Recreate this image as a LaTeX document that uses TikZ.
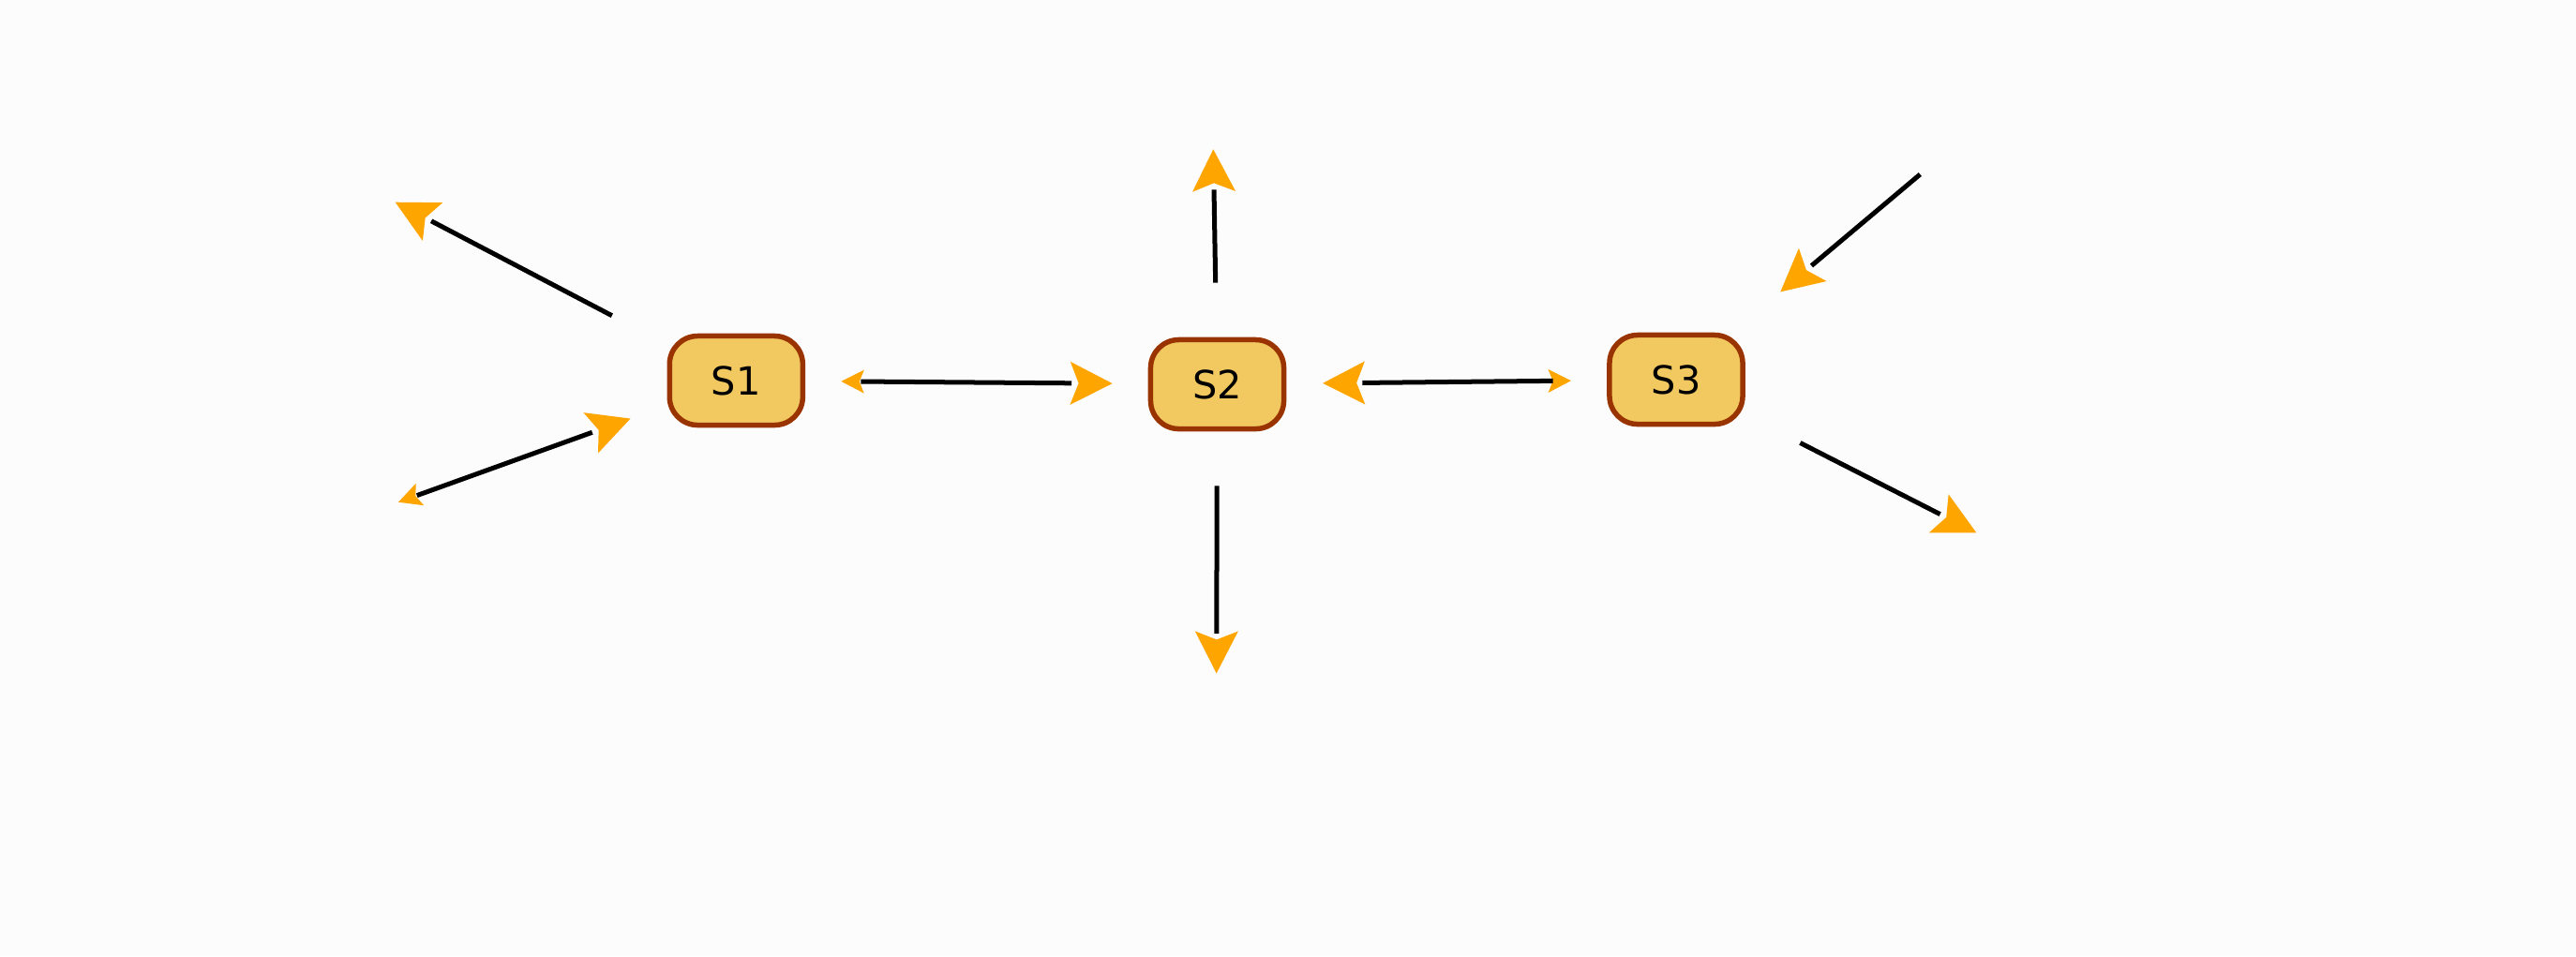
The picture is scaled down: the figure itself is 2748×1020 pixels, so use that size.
\documentclass[tikz,border=0pt]{standalone}
\usepackage{fontspec}
\setmainfont{DejaVu Sans}
\usetikzlibrary{arrows.meta}
\definecolor{pagebg}{HTML}{FCFCFC}
\definecolor{boxfill}{HTML}{F2C960}
\definecolor{boxline}{HTML}{993300}
\definecolor{tipfill}{HTML}{FFA500}

\begin{document}
\begin{tikzpicture}[x=0.01cm,y=-0.01cm,
  state/.style={draw=boxline, fill=boxfill, line width=0.055cm,
    rounded corners=0.3cm, minimum width=1.42cm, minimum height=0.95cm,
    inner sep=0pt, outer sep=0pt, text=black,
    font=\fontsize{11.8}{13}\selectfont},
  link/.style={draw=black, line width=0.05cm},
  heads/.style={tips},
  headL/.tip={Stealth[tipfill, length=0.45cm, width=0.46cm, inset=0.09cm, line width=0pt]},
  headS/.tip={Stealth[tipfill, length=0.244cm, width=0.25cm, inset=0.05cm, line width=0pt]}
]
% canvas
\fill[pagebg] (0,0) rectangle (2748,1020);
\useasboundingbox (0,0) rectangle (2748,1020);

% states
\node[state] (s1) at (785.3,406) {S1};
\node[state] (s2) at (1298.5,410) {S2};
\node[state] (s3) at (1788,405) {S3};

% loose ends of the outer links
\coordinate (f1) at (421.7,215.7);
\coordinate (f2) at (425,535.7);
\coordinate (f4) at (1294.3,159.3);
\coordinate (f5) at (1297.7,718.4);
\coordinate (f7) at (2048.3,186);
\coordinate (f8) at (2108.3,568.3);

% S1 upper-left
\path[heads, -headL] (s1) -- (f1);
\draw[link, shorten <=0.693cm, shorten >=0.433cm] (s1) -- (f1);

% S1 lower-left
\path[heads, headL-headS, shorten <=0.443cm] (s1) -- (f2);
\draw[link, shorten <=0.876cm, shorten >=0.21cm] (s1) -- (f2);

% S1 -- S2
\path[heads, headS-headL, shorten <=0.41cm, shorten >=0.408cm] (s1) -- (s2);
\draw[link, shorten <=0.62cm, shorten >=0.842cm] (s1) -- (s2);

% S2 up
\path[heads, -headL] (s2) -- (f4);
\draw[link, shorten <=0.608cm, shorten >=0.43cm] (s2) -- (f4);

% S2 down
\path[heads, -headL] (s2) -- (f5);
\draw[link, shorten <=0.608cm, shorten >=0.426cm] (s2) -- (f5);

% S2 -- S3
\path[heads, headL-headS, shorten <=0.415cm, shorten >=0.41cm] (s2) -- (s3);
\draw[link, shorten <=0.838cm, shorten >=0.603cm] (s2) -- (s3);

% into S3 from upper right
\path[heads, -headL, shorten >=0.716cm] (f7) -- (s3);
\draw[link, shorten >=1.149cm] (f7) -- (s3);

% S3 lower-right
\path[heads, -headL] (s3) -- (f8);
\draw[link, shorten <=0.688cm, shorten >=0.434cm] (s3) -- (f8);
\end{tikzpicture}
\end{document}
